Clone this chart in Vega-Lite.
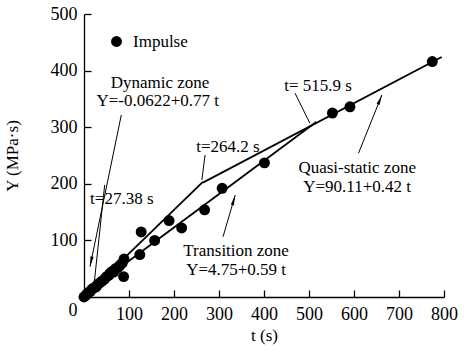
{
  "$schema": "https://vega.github.io/schema/vega-lite/v6.json",
  "width": 360,
  "height": 283,
  "autosize": "none",
  "padding": {"left": 84, "top": 14, "right": 20, "bottom": 55},
  "background": "white",
  "config": {
    "view": {"stroke": null},
    "font": "Liberation Serif",
    "axis": {
      "grid": false,
      "domainColor": "black",
      "domainWidth": 1.3,
      "tickColor": "black",
      "tickWidth": 1.3,
      "tickSize": -7,
      "labelFlush": false,
      "labelOverlap": false,
      "labelFont": "Liberation Serif",
      "labelFontSize": 18,
      "labelColor": "black",
      "titleFont": "Liberation Serif",
      "titleFontSize": 17,
      "titleFontWeight": "normal",
      "titleColor": "black"
    }
  },
  "datasets": {
    "impulse": [
      {"t": 0, "Y": 0, "series": "Impulse"},
      {"t": 3, "Y": 2, "series": "Impulse"},
      {"t": 6, "Y": 5, "series": "Impulse"},
      {"t": 10, "Y": 8, "series": "Impulse"},
      {"t": 14, "Y": 10, "series": "Impulse"},
      {"t": 18, "Y": 14, "series": "Impulse"},
      {"t": 22, "Y": 16, "series": "Impulse"},
      {"t": 27, "Y": 18, "series": "Impulse"},
      {"t": 30, "Y": 22, "series": "Impulse"},
      {"t": 35, "Y": 25, "series": "Impulse"},
      {"t": 40, "Y": 28, "series": "Impulse"},
      {"t": 45, "Y": 31, "series": "Impulse"},
      {"t": 50, "Y": 36, "series": "Impulse"},
      {"t": 55, "Y": 38, "series": "Impulse"},
      {"t": 58, "Y": 42, "series": "Impulse"},
      {"t": 62, "Y": 45, "series": "Impulse"},
      {"t": 66, "Y": 44, "series": "Impulse"},
      {"t": 70, "Y": 50, "series": "Impulse"},
      {"t": 75, "Y": 52, "series": "Impulse"},
      {"t": 80, "Y": 56, "series": "Impulse"},
      {"t": 85, "Y": 60, "series": "Impulse"},
      {"t": 89, "Y": 67, "series": "Impulse"},
      {"t": 88, "Y": 36, "series": "Impulse"},
      {"t": 124, "Y": 75, "series": "Impulse"},
      {"t": 127, "Y": 115, "series": "Impulse"},
      {"t": 157, "Y": 100, "series": "Impulse"},
      {"t": 189, "Y": 135, "series": "Impulse"},
      {"t": 217, "Y": 122, "series": "Impulse"},
      {"t": 268, "Y": 154, "series": "Impulse"},
      {"t": 307, "Y": 192, "series": "Impulse"},
      {"t": 401, "Y": 237, "series": "Impulse"},
      {"t": 552, "Y": 325, "series": "Impulse"},
      {"t": 591, "Y": 336, "series": "Impulse"},
      {"t": 774, "Y": 416, "series": "Impulse"}
    ],
    "fits": [
      {"zone": "Dynamic", "t": 0, "Y": -0.06},
      {"zone": "Dynamic", "t": 264.2, "Y": 203.4},
      {"zone": "Quasi-static", "t": 264.2, "Y": 202},
      {"zone": "Quasi-static", "t": 795, "Y": 424},
      {"zone": "Transition", "t": 0, "Y": 4.75},
      {"zone": "Transition", "t": 515.9, "Y": 309.1}
    ],
    "leaders": [
      {"name": "dynamic", "t1": 82.9, "Y1": 321.6, "t2": 13.3, "Y2": 53.5},
      {"name": "t27", "t1": 46, "Y1": 198, "t2": 22.2, "Y2": 21.2},
      {"name": "t264", "t1": 269, "Y1": 251, "t2": 262, "Y2": 207},
      {"name": "t515", "t1": 469, "Y1": 360, "t2": 502, "Y2": 307},
      {"name": "quasi", "t1": 610, "Y1": 254, "t2": 662, "Y2": 357},
      {"name": "transition", "t1": 309, "Y1": 106.5, "t2": 336, "Y2": 180}
    ],
    "labels": [
      {"t": 169, "Y": 378, "text": "Dynamic zone"},
      {"t": 164, "Y": 346, "text": "Y=-0.0622+0.77 t"},
      {"t": 84, "Y": 173, "text": "t=27.38 s"},
      {"t": 320, "Y": 265, "text": "t=264.2 s"},
      {"t": 520, "Y": 373, "text": "t= 515.9 s"},
      {"t": 607, "Y": 228, "text": "Quasi-static zone"},
      {"t": 607, "Y": 194, "text": "Y=90.11+0.42 t"},
      {"t": 338, "Y": 81, "text": "Transition zone"},
      {"t": 338, "Y": 48, "text": "Y=4.75+0.59 t"}
    ]
  },
  "encoding": {
    "x": {
      "type": "quantitative",
      "scale": {"domain": [0, 800], "nice": false, "zero": false},
      "axis": {
        "title": "t (s)",
        "values": [100, 200, 300, 400, 500, 600, 700, 800],
        "labelPadding": 15,
        "titlePadding": 4
      }
    },
    "y": {
      "type": "quantitative",
      "scale": {"domain": [0, 500], "nice": false, "zero": false},
      "axis": {
        "title": "Y (MPa·s)",
        "values": [0, 100, 200, 300, 400, 500],
        "labelPadding": 14,
        "titlePadding": 29,
        "labelOffset": {"condition": {"test": "datum.value === 0", "value": 13}, "value": 0}
      }
    }
  },
  "layer": [
    {
      "data": {"name": "fits"},
      "mark": {"type": "line", "color": "black", "strokeWidth": 1.8},
      "encoding": {
        "x": {"field": "t", "type": "quantitative"},
        "y": {"field": "Y", "type": "quantitative"},
        "detail": {"field": "zone"}
      }
    },
    {
      "data": {"name": "leaders"},
      "mark": {"type": "rule", "color": "black", "strokeWidth": 1},
      "encoding": {
        "x": {"field": "t1", "type": "quantitative"},
        "y": {"field": "Y1", "type": "quantitative"},
        "x2": {"field": "t2"},
        "y2": {"field": "Y2"}
      }
    },
    {
      "data": {"name": "leaders"},
      "transform": [{"filter": "datum.name === 'dynamic'"}],
      "mark": {"type": "point", "filled": true, "color": "black", "opacity": 1, "size": 130, "angle": 191.7, "shape": "M0,0L0.28,1.8L-0.28,1.8Z"},
      "encoding": {
        "x": {"field": "t2", "type": "quantitative"},
        "y": {"field": "Y2", "type": "quantitative"}
      }
    },
    {
      "data": {"name": "leaders"},
      "transform": [{"filter": "datum.name === 'quasi'"}],
      "mark": {"type": "point", "filled": true, "color": "black", "opacity": 1, "size": 130, "angle": 21.9, "shape": "M0,0L0.28,1.8L-0.28,1.8Z"},
      "encoding": {
        "x": {"field": "t2", "type": "quantitative"},
        "y": {"field": "Y2", "type": "quantitative"}
      }
    },
    {
      "data": {"name": "leaders"},
      "transform": [{"filter": "datum.name === 'transition'"}],
      "mark": {"type": "point", "filled": true, "color": "black", "opacity": 1, "size": 130, "angle": 16, "shape": "M0,0L0.28,1.8L-0.28,1.8Z"},
      "encoding": {
        "x": {"field": "t2", "type": "quantitative"},
        "y": {"field": "Y2", "type": "quantitative"}
      }
    },
    {
      "data": {"name": "impulse"},
      "mark": {"type": "point", "filled": true, "opacity": 1, "size": 120, "shape": "circle"},
      "encoding": {
        "x": {"field": "t", "type": "quantitative"},
        "y": {"field": "Y", "type": "quantitative"},
        "color": {
          "field": "series",
          "type": "nominal",
          "scale": {"range": ["black"]},
          "legend": {
            "title": null,
            "orient": "none",
            "legendX": 24,
            "legendY": 19,
            "labelFont": "Liberation Serif",
            "labelFontSize": 17,
            "labelColor": "black",
            "symbolSize": 120,
            "symbolType": "circle",
            "symbolStrokeWidth": 0,
            "labelOffset": 8
          }
        }
      }
    },
    {
      "data": {"name": "labels"},
      "mark": {"type": "text", "font": "Liberation Serif", "fontSize": 17, "color": "black", "align": "center", "baseline": "middle"},
      "encoding": {
        "x": {"field": "t", "type": "quantitative"},
        "y": {"field": "Y", "type": "quantitative"},
        "text": {"field": "text"}
      }
    }
  ]
}
